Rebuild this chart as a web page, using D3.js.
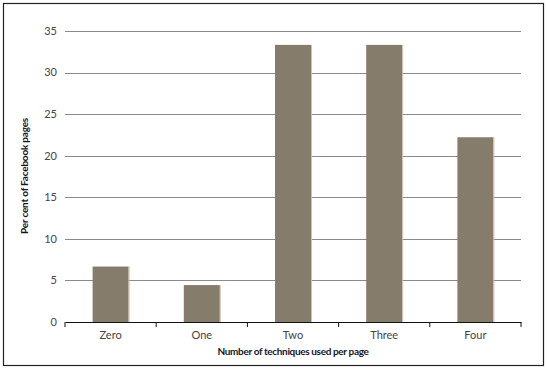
<!DOCTYPE html>
<html><head><meta charset="utf-8">
<script src="https://cdn.jsdelivr.net/npm/d3@7"></script>
<style>body{margin:0;background:#fff;} text{font-family:Lato, "Open Sans", sans-serif;}</style>
</head><body>
<svg id="c" width="547" height="370"></svg>
<script>
const categories = ["Zero","One","Two","Three","Four"];
const values = [6.67, 4.44, 33.33, 33.33, 22.22];
const yTicks = [0,5,10,15,20,25,30,35];

const svg = d3.select("#c");
const W=547,H=370;
const m={left:65,right:26,top:31,bottom:48};
svg.append("rect").attr("x",3.5).attr("y",3.5).attr("width",540).attr("height",362)
  .attr("fill","#fff").attr("stroke","#222").attr("stroke-width",1.2);

const x=d3.scaleBand().domain(categories).range([m.left,W-m.right]).paddingInner(0).paddingOuter(0);
const y=d3.scaleLinear().domain([0,35]).range([H-m.bottom,m.top]);

// grid
svg.append("g").selectAll("line").data(yTicks.filter(d=>d>0)).join("line")
  .attr("x1",m.left).attr("x2",W-m.right)
  .attr("y1",d=>Math.round(y(d))+0.5).attr("y2",d=>Math.round(y(d))+0.5)
  .attr("stroke","#8a8a8a").attr("stroke-width",1.2);

// y labels
svg.append("g").selectAll("text").data(yTicks).join("text")
  .attr("x",57).attr("y",d=>y(d)).attr("dy","0.35em").attr("text-anchor","end")
  .attr("font-size",11).attr("fill","#444").text(d=>d);

// bars
const bw=36;
svg.append("g").selectAll("rect").data(values).join("rect")
  .attr("x",(d,i)=>x(categories[i])+x.bandwidth()/2-bw/2)
  .attr("y",d=>y(d)).attr("width",bw).attr("height",d=>y(0)-y(d))
  .attr("fill","#857c6b");
svg.append("g").selectAll("line").data(values).join("line")
  .attr("x1",(d,i)=>x(categories[i])+x.bandwidth()/2+bw/2+0.5)
  .attr("x2",(d,i)=>x(categories[i])+x.bandwidth()/2+bw/2+0.5)
  .attr("y1",d=>y(d)).attr("y2",y(0)).attr("stroke","#c9c1b2").attr("stroke-width",1);

// x axis
const xa=d3.axisBottom(x).tickSize(0).tickPadding(9);
const gx=svg.append("g").attr("transform",`translate(0,${y(0)})`).call(xa);
gx.select(".domain").attr("stroke","#111").attr("stroke-width",1.2);
gx.selectAll(".tick text").attr("font-size",11).attr("fill","#444").attr("font-family","Lato, sans-serif");
const bounds=categories.map(c=>x(c)).concat([x.range()[1]]);
gx.selectAll(".bt").data(bounds).join("line").attr("class","bt")
  .attr("x1",d=>d).attr("x2",d=>d).attr("y1",0).attr("y2",5).attr("stroke","#111");

svg.append("text").attr("x",293).attr("y",355).attr("text-anchor","middle")
  .attr("font-size",10).attr("font-weight","bold").attr("fill","#141428").attr("letter-spacing","-0.35")
  .text("Number of techniques used per page");
svg.append("text").attr("transform","translate(28,176) rotate(-90)").attr("text-anchor","middle")
  .attr("font-size",10).attr("font-weight","bold").attr("fill","#141428").attr("letter-spacing","-0.2")
  .text("Per cent of Facebook pages");
</script></body></html>
